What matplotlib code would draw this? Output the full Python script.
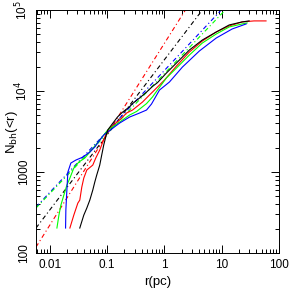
import matplotlib
matplotlib.use("Agg")
import matplotlib.pyplot as plt
from matplotlib.ticker import FixedLocator, FixedFormatter, LogLocator, NullFormatter

plt.rcParams['font.family'] = ['Liberation Sans', 'DejaVu Sans']

# cumulative number of black holes inside r, one curve per run
r_black = [0.0332, 0.039, 0.044, 0.0497, 0.056, 0.0607, 0.0656, 0.0741, 0.0802, 0.0869, 0.0942, 0.102,
           0.125, 0.152, 0.186, 0.246, 0.277, 0.367, 0.486, 0.618, 0.755, 1.08, 1.62, 2.72, 4.58, 8.02,
           13.5, 22.7, 30.1]
n_black = [204, 294, 359, 451, 600, 753, 918, 1220, 1622, 2154, 2705, 3302,
           4000, 4800, 5500, 6400, 7000, 8200, 9700, 11400, 12700, 16670, 22180, 32080, 42640, 53570,
           65440, 71320, 73400]

r_red = [0.0223, 0.0261, 0.0307, 0.0332, 0.036, 0.039, 0.044, 0.056, 0.0631, 0.0741, 0.0836, 0.0942,
         0.11, 0.165, 0.218, 0.277, 0.414, 0.548, 0.67, 1.0, 1.62, 2.72, 4.58, 8.02, 13.5, 22.7, 36.7, 59.4]
n_red = [204, 294, 414, 451, 653, 843, 1059, 1220, 1489, 1870, 2346, 2864,
         3496, 4386, 5354, 5831, 7324, 8942, 10290, 13680, 20360, 30290, 41430, 53570, 63590, 71320, 73400, 73400]

r_green = [0.01324, 0.01435, 0.01553, 0.01751, 0.01976, 0.0223, 0.0261, 0.0319, 0.0406, 0.0497, 0.0607,
           0.0741, 0.0869, 0.102, 0.165, 0.246, 0.326, 0.486, 0.618, 0.755, 1.08, 1.62, 2.72, 4.58, 8.02,
           13.5, 22.7, 27.8]
n_green = [204, 294, 391, 520, 691, 843, 1120, 1328, 1489, 1766, 2096,
           2483, 2864, 3302, 4143, 5057, 5600, 7000, 8446, 10290, 14480, 19220, 27810, 39140, 50580,
           61790, 67340, 69300]

r_blue = [0.01875, 0.01897, 0.01976, 0.02056, 0.02317, 0.02831, 0.0375, 0.0497, 0.0607, 0.0741, 0.0869,
          0.102, 0.165, 0.246, 0.367, 0.486, 0.594, 0.819, 1.22, 2.06, 4.06, 8.02, 15.2, 26.7]
n_blue = [204, 340, 600, 1000, 1292, 1406, 1531, 1766, 2037, 2483, 2864,
          3119, 4030, 4777, 5354, 5831, 6918, 10290, 12920, 19780, 31170, 45130, 58340, 67340]

# power-law fits (two end points each)
fit_r_red, fit_n_red = [0.0057, 2.32], [118.6, 1e5]
fit_r_black, fit_n_black = [0.0057, 4.58], [203.7, 1e5]
fit_r_blue, fit_n_blue = [0.0057, 9.8], [370, 1e5]
fit_r_green, fit_n_green = [0.0057, 11.5], [360, 1e5]

fig = plt.figure(figsize=(2.9, 2.95), dpi=100)
ax = fig.add_axes([0.124, 0.142, 0.838, 0.824])

dd = (0, (4, 2.5, 1, 2.5))
lw = 0.8
ax.plot(fit_r_red, fit_n_red, color='#ff0000', lw=lw, ls=dd)
ax.plot(fit_r_black, fit_n_black, color='black', lw=lw, ls=dd)
ax.plot(fit_r_blue, fit_n_blue, color='#0000ff', lw=lw, ls=dd)
ax.plot(fit_r_green, fit_n_green, color='#00ff00', lw=lw, ls=dd)

ax.plot(r_red, n_red, color='#ff0000', lw=lw)
ax.plot(r_green, n_green, color='#00ff00', lw=lw)
ax.plot(r_blue, n_blue, color='#0000ff', lw=lw)
ax.plot(r_black, n_black, color='black', lw=lw)

ax.set_xscale('log')
ax.set_yscale('log')
ax.set_xlim(0.0057, 100)
ax.set_ylim(100, 1e5)

ax.xaxis.set_major_locator(FixedLocator([0.01, 0.1, 1, 10, 100]))
ax.xaxis.set_major_formatter(FixedFormatter(['0.01', '0.1', '1', '10', '100']))
ax.yaxis.set_major_locator(FixedLocator([100, 1000, 1e4, 1e5]))
ax.yaxis.set_major_formatter(FixedFormatter(['100', '1000', r'10$^4$', r'10$^5$']))
for a in (ax.xaxis, ax.yaxis):
    a.set_minor_locator(LogLocator(base=10, subs=range(2, 10), numticks=20))
    a.set_minor_formatter(NullFormatter())

ax.tick_params(which='both', direction='in', top=True, right=True, labelsize=8.5, width=0.7)
ax.tick_params(which='major', length=6, pad=4)
ax.tick_params(which='minor', length=3)
for lab in ax.get_yticklabels():
    lab.set_rotation(90)
    lab.set_va('center')
for s in ax.spines.values():
    s.set_linewidth(0.7)

ax.set_xlabel('r(pc)', fontsize=9.5, labelpad=4)
ax.set_ylabel(r'N$_{\rm bh}$(<r)', fontsize=9.5, va='center')
ax.yaxis.set_label_coords(-0.1, 0.5)

fig.savefig('out.png', dpi=100)
